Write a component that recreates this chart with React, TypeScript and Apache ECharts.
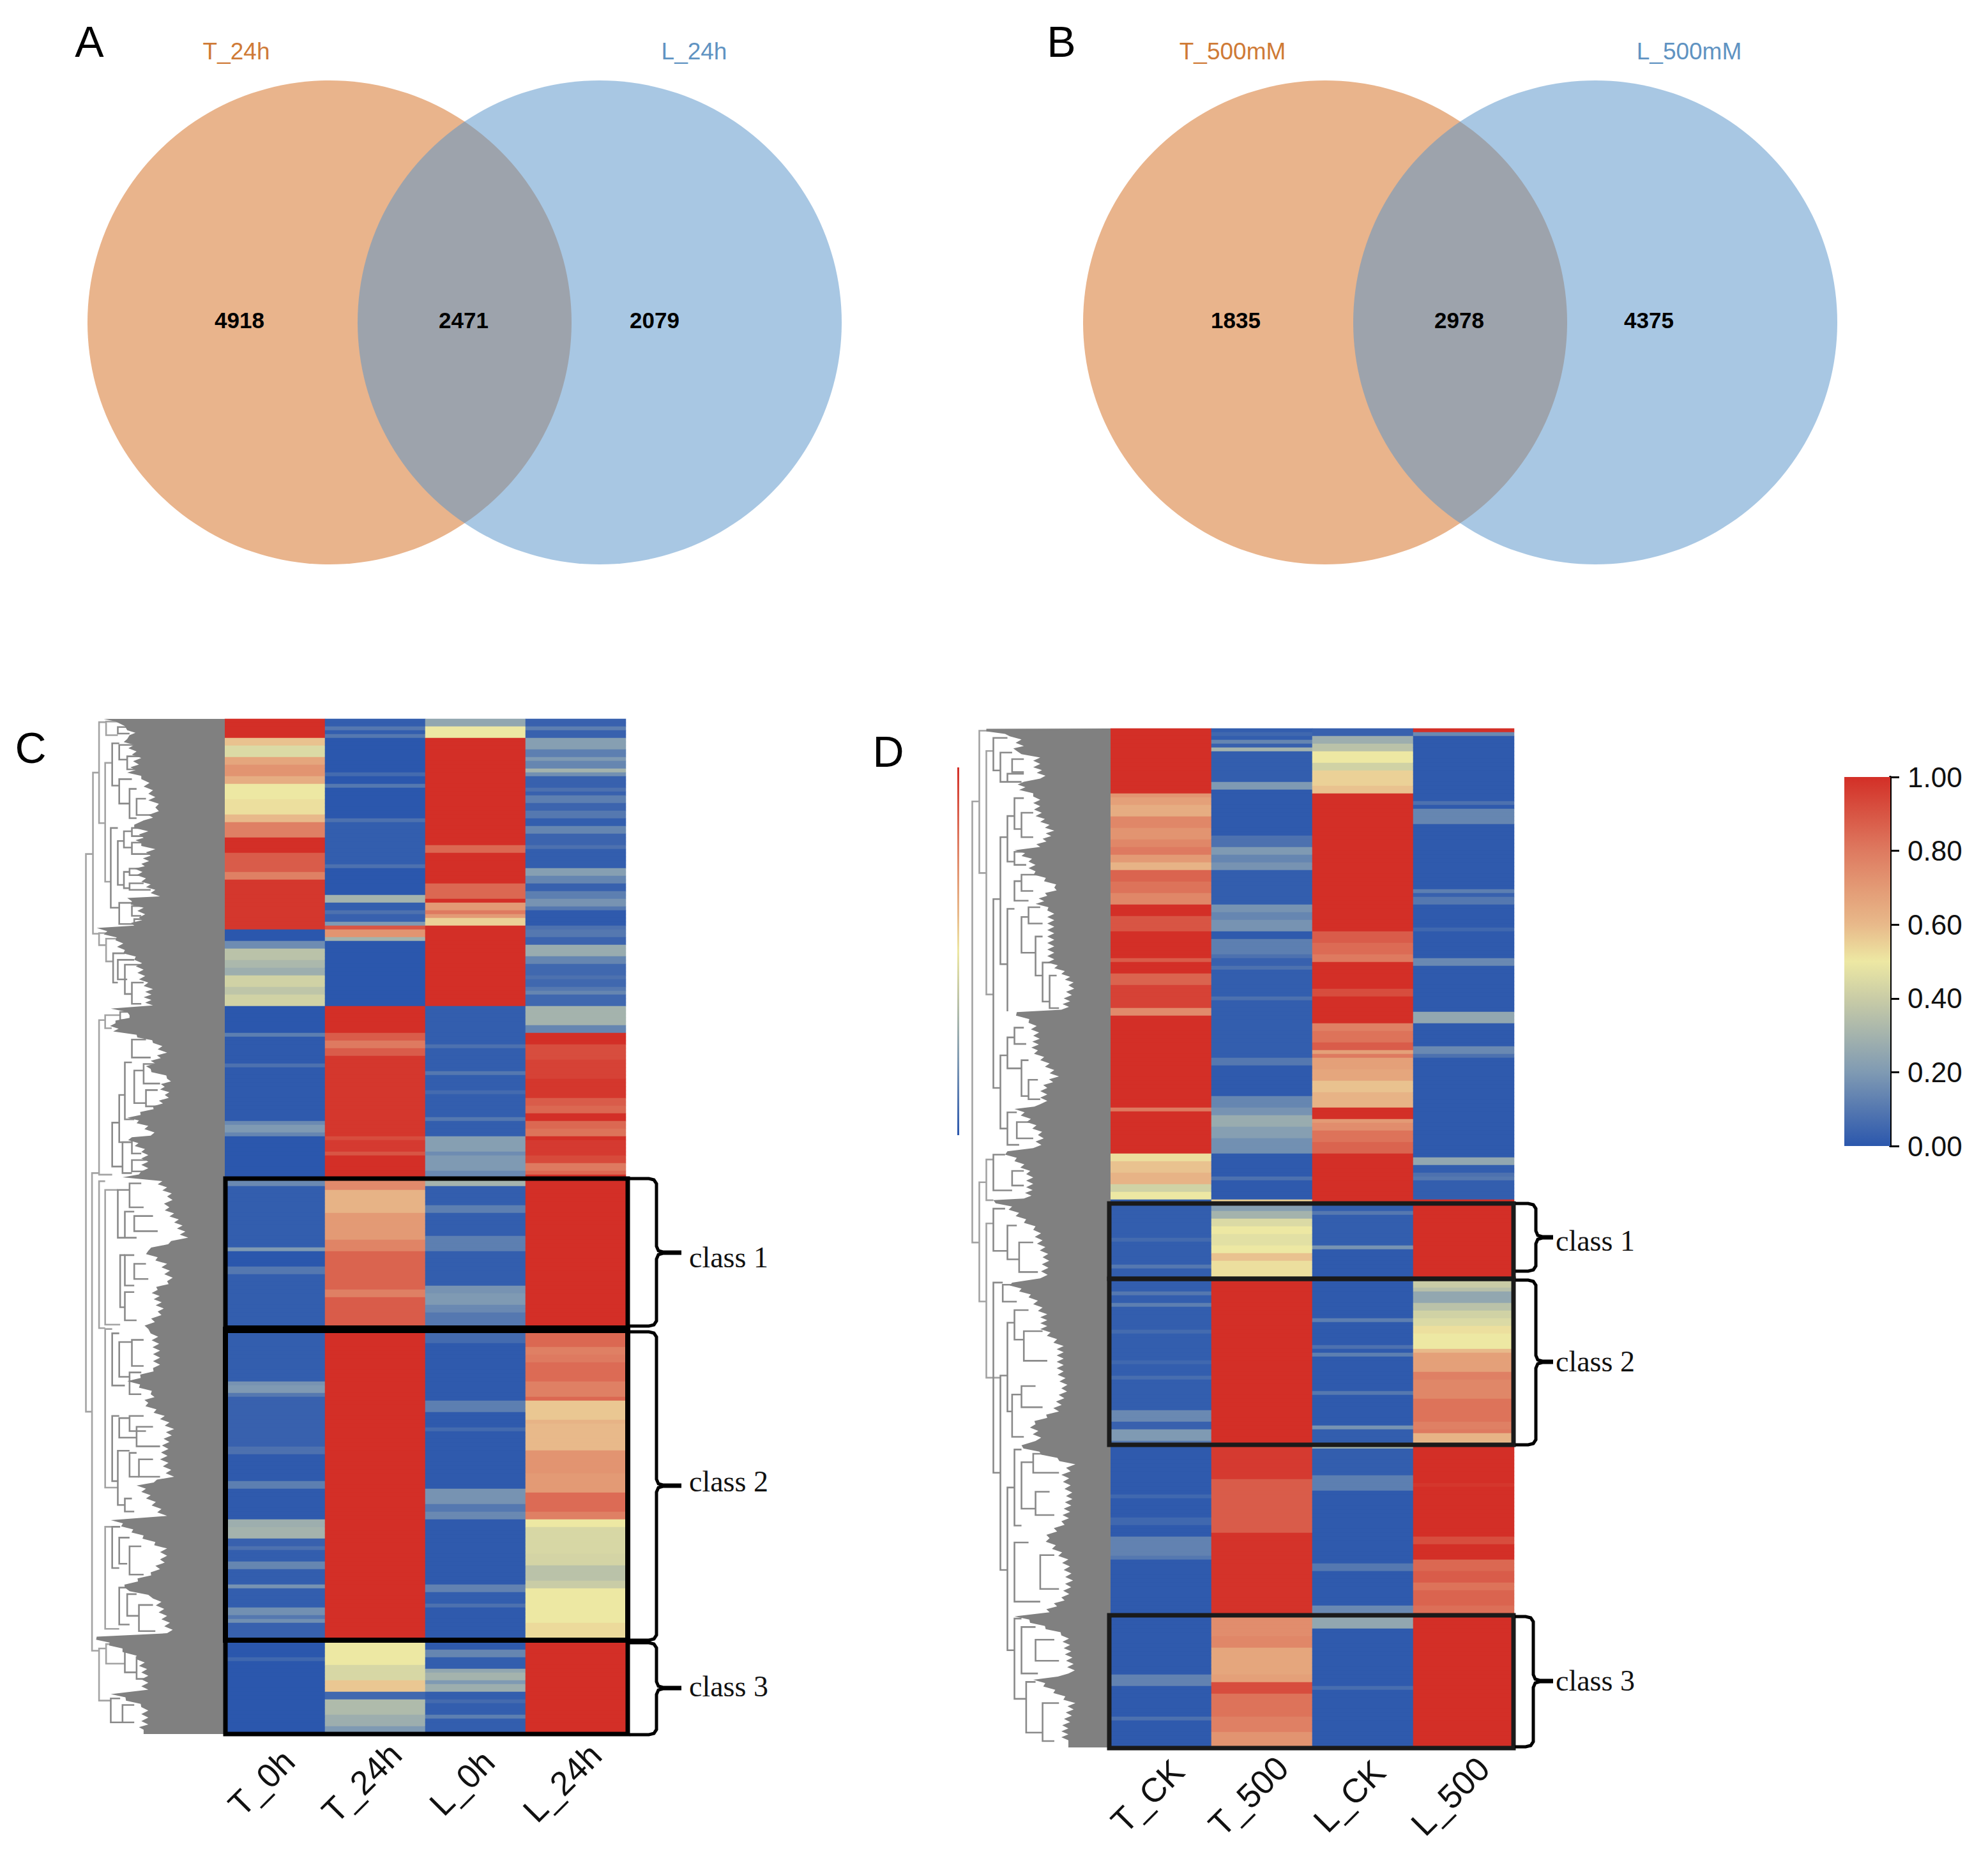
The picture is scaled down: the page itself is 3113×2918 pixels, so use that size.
import React, { useEffect, useRef } from "react";
import * as echarts from "echarts";

type Run = [number, number];

// Venn counts
const vennASets = ["T_24h", "L_24h"];
const vennBSets = ["T_500mM", "L_500mM"];
const vennACounts = [4918, 2471, 2079];
const vennBCounts = [1835, 2978, 4375];

// Heatmap columns
const colsC = ["T_0h", "T_24h", "L_0h", "L_24h"];
const colsD = ["T_CK", "T_500", "L_CK", "L_500"];
const ROWS_C = 265;
const ROWS_D = 266;

// Runs: [row where the band ends, value]
const cT0h: Run[] = [[5,1],[7,.58],[9.5,.45],[12,.66],[14.5,.72],[17,.64],[21,.5],[25,.52],[27,.6],[31,.78],[35,1],[40,.88],[41.5,.78],[54.5,.98],[57.5,0],[59.5,.16],[63,.36],[65,.32],[67,.28],[70,.42],[72,.37],[75,.42],[82,0],[83,.12],[90,.01],[91,.08],[104.5,.01],[106,.15],[107.5,.2],[109,.14],[120,0],[122,.15],[138,.02],[139,.2],[143,0],[144.5,.1],[160,.02],[172.5,.02],[174,.18],[176,.2],[177,.1],[190,.03],[191.5,.08],[199,.01],[201,.12],[209,.01],[211,.28],[213.5,.3],[216,.03],[217,.08],[220,.02],[221.5,.14],[226,.02],[227,.18],[231.5,.02],[233.5,.17],[234.5,.1],[236,.17],[240,.03],[245,0],[246,.05],[265,0]];
const cT24h: Run[] = [[1.5,.02],[2.5,.1],[4,.02],[5,.1],[14,0],[15,.06],[17,0],[18,.1],[26,0],[27,.08],[38,.02],[39,.08],[46,0],[47.5,.3],[50,.02],[51,.08],[53,.03],[54,.2],[55,.9],[56.5,.72],[57.5,.3],[75,0],[81.5,1],[84,.88],[86,.8],[88,.88],[109,.98],[110,.92],[113,.97],[114,.9],[120,1],[123,.75],[129,.62],[135.5,.7],[139,.77],[148.5,.86],[151,.78],[158.5,.88],[241,1],[247,.5],[251,.44],[254,.57],[256,.05],[260,.33],[262.5,.28],[265,.2]];
const cL0h: Run[] = [[1.5,.25],[5,.5],[32.5,1],[35,.85],[43,1],[46.5,.85],[47.5,1],[50,.7],[51,.8],[51.5,.7],[54,.55],[75,1],[85,.02],[86,.08],[91.5,.02],[92.5,.1],[97,.02],[98,.06],[103.5,.02],[104.5,.1],[109,.02],[113,.22],[114,.16],[118,.2],[120,.15],[122,.3],[127,.02],[129,.12],[135,.02],[138.5,.12],[148,.02],[150,.18],[153,.2],[155,.15],[160,.1],[163,.06],[178,.01],[181,.12],[185,.01],[186,.06],[201,.01],[205,.18],[207,.1],[209,.15],[226,.01],[227.5,.13],[231,.02],[232,.08],[243,.01],[245,.14],[248,.02],[249,.25],[250.5,.3],[252,.2],[253.5,.28],[256,.02],[257,.06],[260,.02],[261,.12],[265,.02]];
const cL24h: Run[] = [[2,.03],[2.5,.12],[5,.03],[8,.22],[10,.12],[11,.2],[12.5,.14],[13.5,.3],[14.5,.17],[18,.03],[19,.08],[20,.03],[22,.12],[24,.04],[25.5,.1],[28,.02],[30,.14],[33,.04],[34,.08],[39,.02],[41,.22],[43,.14],[45,.03],[47,.12],[49,.18],[50,.1],[54,.01],[55,.08],[56.5,.1],[57,.3],[59,.04],[62,.27],[64,.14],[67,.05],[68,.08],[70,.05],[71,.1],[72,.14],[75,.05],[80,.3],[82,.14],[85,1],[89,.92],[94,.95],[99,.98],[101,.88],[103,.85],[105,1],[107,.85],[108.5,.82],[110,1],[114,.97],[116,.93],[118,.8],[119,.85],[160,1],[164,.85],[165.5,.78],[168,.8],[173,.84],[177,.78],[178,.85],[183,.57],[184,.62],[190.5,.6],[191,.55],[197,.72],[202,.7],[207,.84],[209,.78],[211,.5],[218,.44],[221,.43],[225,.36],[227,.4],[236,.5],[241,.53],[265,1]];

const dTCK: Run[] = [[16.5,1],[18,.72],[20,.68],[23,.64],[26,.76],[29,.72],[31,.76],[33,.8],[35,.7],[36.5,.62],[40,.86],[43,.82],[46,.76],[49,1],[52.5,.9],[60,1],[61,.88],[64,1],[67,.86],[73,.95],[75,.75],[99,1],[100,.8],[110.5,1],[111,.25],[113,.52],[116,.58],[119,.62],[120.5,.42],[123,.5],[133,.02],[134,.06],[140,.02],[141,.1],[147,.02],[148,.1],[149.5,.02],[151,.12],[157,.02],[158,.06],[165,.02],[166,.05],[168.5,.02],[169.5,.07],[178,.02],[181,.15],[183,.03],[186,.2],[187,.1],[200,.01],[201,.05],[206,.01],[208,.05],[211,.01],[216,.13],[217,.1],[246.5,.01],[250,.13],[258,.01],[259,.08],[266,.01]];
const dT500: Run[] = [[1,.02],[2,.05],[3,.02],[4,.14],[5,.03],[6,.3],[13.5,.02],[16,.2],[28,.01],[31,.08],[33,.2],[35,.14],[37,.18],[45.5,.02],[48,.18],[50,.14],[52.5,.18],[55,.01],[58.5,.12],[60,.08],[62,.03],[63,.08],[70,.02],[71,.08],[86,.02],[88,.1],[96,.01],[99,.14],[101,.18],[104,.27],[107,.22],[110.5,.17],[117,.01],[118,.08],[123,.01],[124,.55],[126,.22],[128,.3],[130,.45],[132,.5],[135,.47],[137,.5],[139,.58],[144,.52],[187,1],[196,.97],[210,.88],[231.5,.99],[237,.74],[240,.76],[247,.66],[249,.68],[252,.92],[258,.82],[262,.78],[266,.72]];
const dLCK: Run[] = [[1.5,.03],[4,.28],[6,.36],[9,.5],[11,.42],[15,.55],[16.5,.58],[52.5,1],[56,.88],[59,.84],[60.5,.8],[68,1],[70,.92],[77,1],[79,.78],[82,.82],[84,.88],[85,.68],[86,.8],[89,.68],[92,.66],[95,.58],[99,.62],[102,1],[103,.7],[105,.74],[108,.82],[110.5,.86],[123.5,1],[126,.02],[127,.1],[134.5,.02],[136,.18],[154,.01],[155,.12],[161,.01],[162,.08],[163,.01],[164,.12],[173,.01],[174,.1],[182,.01],[183,.18],[187,.02],[188,.3],[195,.02],[199,.12],[218,.01],[220,.1],[229,.01],[231,.15],[235,.25],[250,.01],[251,.07],[266,.01]];
const dL500: Run[] = [[1,1],[2,.15],[19,.01],[20,.08],[20.5,.01],[25,.14],[42,.01],[43,.12],[44,.03],[46,.1],[52,.01],[53,.05],[60,.01],[62,.15],[74,.01],[77,.25],[83,.01],[85,.15],[86,.08],[112,.01],[114,.25],[116,.02],[117,.08],[118,.1],[123,.02],[144,1],[146,.4],[147,.35],[150,.25],[152,.36],[154,.42],[156,.45],[158,.52],[162,.5],[163,.6],[168,.68],[170,.78],[175,.76],[181,.82],[183,.78],[184,.8],[186,.62],[187,.6],[197,1],[198,.98],[211,1],[212.5,.92],[217,1],[220,.85],[223,.88],[225,.82],[229,.86],[231,.83],[266,1]];

// Dendrogram silhouettes: [depth, leaf position]; brackets: [stem, top, bottom, top end, bottom end]
const massCUpper = [[85,50],[125,58],[130,72],[150,85],[155,100],[135,112],[150,130],[155,150],[165,170],[160,190],[150,215],[180,235],[185,258],[195,280],[195,300],[210,322],[195,345],[185,362],[150,375],[180,395],[170,415],[165,430],[195,450],[185,470],[180,495],[165,510],[170,530],[180,550],[195,575],[205,595],[150,600],[145,610],[170,630],[175,660],[150,685],[85,692],[100,712],[125,730],[130,760],[165,790],[170,820],[175,850],[190,880],[185,905],[190,930],[115,940],[155,960],[110,985],[120,1010],[155,1020],[205,1045],[220,1075],[200,1100],[185,1125],[235,1155],[215,1180],[230,1205],[205,1240],[150,1275],[180,1300],[200,1330],[145,1335],[180,1380],[180,1440],[140,1458]];
const massCLower = [[210,0],[235,35],[225,60],[250,95],[265,130],[180,160],[220,190],[235,230],[200,250],[215,300],[180,340],[200,350],[205,390],[205,430],[150,460],[200,490],[180,510],[215,540],[235,570],[225,600],[220,640],[235,680],[170,700],[190,730],[220,770],[115,780],[170,815],[220,845],[220,870],[200,900],[130,935],[205,960],[220,1000],[235,1040],[70,1048],[125,1075],[170,1100],[180,1130],[180,1170],[115,1180],[180,1210],[180,1250],[170,1262]];
const massDUpper = [[265,42],[280,50],[330,65],[340,75],[345,95],[330,110],[380,130],[380,160],[395,195],[345,205],[350,230],[380,250],[380,280],[385,310],[410,355],[400,380],[380,405],[340,415],[370,450],[370,480],[425,530],[395,555],[385,580],[410,600],[410,640],[410,680],[410,730],[410,760],[440,795],[455,830],[445,870],[440,905],[330,912],[370,945],[380,985],[375,1030],[395,1060],[420,1110],[395,1145],[395,1195],[340,1210],[360,1240],[390,1290],[380,1330],[310,1340],[340,1370],[365,1410],[365,1450],[360,1485]];
const massDLower = [[280,0],[320,15],[350,45],[380,70],[385,95],[400,135],[395,185],[320,195],[370,230],[395,270],[395,305],[430,345],[430,405],[440,445],[420,500],[370,530],[385,570],[340,580],[455,625],[440,650],[450,700],[440,760],[400,800],[440,850],[450,900],[440,940],[400,975],[340,985],[440,1030],[450,1090],[455,1120],[380,1135],[455,1190],[440,1250],[440,1285]];

const bracketsCUpper = [[47,465,2178,62,60],[62,215,710,75,75],[75,60,370,90,88],[90,58,100,115,115],[115,75,95,135,140],[88,185,550,103,100],[103,125,255,118,118],[118,130,175,150,135],[135,165,205,160,155],[118,235,310,145,140],[140,265,355,155,155],[155,295,345,175,185],[100,385,630,115,118],[115,425,560,128,128],[128,395,445,145,145],[145,385,410,170,170],[145,430,465,175,190],[128,520,570,140,140],[140,510,530,165,165],[140,555,575,170,185],[118,615,680,145,150],[145,625,655,165,165],[150,665,680,170,170],[75,708,745,100,90],[90,725,795,115,105],[105,770,860,130,115],[115,790,850,150,135],[130,805,895,165,145],[145,860,925,170,165],[60,1445,2912,75,75],[75,975,1450,88,103],[88,960,1000,120,102],[120,950,975,150,150],[103,1290,1425,118,125],[118,1205,1350,130,145],[130,1105,1280,145,150],[145,1035,1090,175,185],[150,1130,1230,170,175],[170,1110,1170,195,205],[175,1190,1240,200,215],[125,1350,1445,145,145],[145,1345,1385,165,165],[145,1405,1440,175,180]];
const bracketsCLower = [[75,0,338,88,88],[88,20,330,115,120],[115,20,130,140,130],[140,5,60,165,170],[130,70,130,150,155],[150,80,115,190,200],[120,170,290,130,130],[130,170,240,150,150],[150,190,225,175,180],[130,255,320,150,155],[88,340,705,103,115],[103,350,470,118,130],[118,370,450,145,140],[145,365,425,170,170],[140,440,490,165,165],[103,540,690,118,115],[118,545,590,140,155],[140,540,575,170,175],[155,565,610,190,205],[115,620,745,140,130],[140,625,680,155,160],[160,640,680,190,205],[130,730,760,145,150],[88,795,1030,103,118],[103,795,890,120,118],[118,820,880,140,135],[140,840,905,165,170],[118,935,1020,135,140],[135,950,1000,155,160],[160,975,1035,190,195],[75,1075,1195,90,100],[90,1065,1110,125,130],[130,1075,1130,150,155],[155,1095,1145,170,170],[100,1190,1245,120,125],[125,1205,1245,150,150]];
const bracketsDUpper = [[235,265,1620,250,250],[250,48,485,270,265],[265,110,858,280,280],[280,70,170,310,295],[295,115,205,320,310],[320,135,175,345,345],[310,180,205,345,340],[280,565,1145,295,295],[295,375,765,310,310],[310,310,450,325,325],[325,255,350,345,340],[340,300,375,365,365],[325,420,460,350,350],[310,595,910,325,310],[325,510,570,340,355],[340,490,540,375,365],[340,620,730,355,370],[355,590,640,380,385],[370,680,800,385,385],[385,760,880,410,400],[400,800,900,415,420],[295,1045,1270,310,310],[310,990,1085,325,340],[325,960,1010,345,350],[340,1060,1170,355,355],[355,1120,1180,375,380],[310,1220,1320,330,335],[330,1250,1300,360,365],[250,1435,1801,265,265],[265,1365,1490,280,280],[280,1350,1460,305,320],[320,1400,1445,345,345]];
const bracketsDLower = [[265,55,420,280,295],[280,20,120,305,310],[310,60,140,330,335],[335,100,170,365,375],[280,195,645,300,295],[300,200,240,325,330],[295,415,875,310,310],[310,290,500,325,320],[325,260,330,355,345],[345,310,380,385,395],[320,460,560,340,345],[340,440,490,370,385],[310,680,1065,325,325],[325,590,770,340,340],[340,620,730,365,370],[365,600,645,400,420],[370,690,745,400,410],[325,810,950,355,380],[380,840,920,410,420],[325,990,1180,340,350],[340,1010,1120,370,375],[370,1040,1090,410,420],[350,1140,1260,370,385],[385,1190,1280,420,410]];

// Colour scale, evenly spaced from 0 to 1
const scaleColors = ["#2b57ad","#5578b0","#7f9ab3","#a4b3ad","#c9cca6","#ede8a3","#e8b98a","#e39a75","#de7a60","#d85544","#d32f27"];
const scaleTicks = [0, 0.2, 0.4, 0.6, 0.8, 1];

const expand = (runs: Run[], rows: number) => {
  const out: number[] = [];
  let prev = 0;
  for (const [end, v] of runs) {
    const e = Math.min(rows, Math.round(end));
    for (let i = prev; i < e; i++) out.push(v);
    prev = Math.max(prev, e);
  }
  while (out.length < rows) out.push(runs[runs.length - 1][1]);
  return out;
};

const heatData = (cols: Run[][], rows: number) => {
  const d: number[][] = [];
  cols.forEach((c, x) => expand(c, rows).forEach((v, y) => d.push([x, y, v])));
  return d;
};

// Comb edge of the dendrogram's leaves: drawn style of the silhouette.
const comb = (pts: number[][], step: number, depth: number) => {
  const out: number[][] = [];
  let odd = false;
  for (let i = 0; i < pts.length - 1; i++) {
    const [x0, y0] = pts[i];
    const [x1, y1] = pts[i + 1];
    const n = Math.max(1, Math.round((y1 - y0) / step));
    for (let k = 0; k < n; k++) {
      const t = k / n;
      out.push([x0 + (x1 - x0) * t - (odd ? depth : 0), y0 + (y1 - y0) * t]);
      odd = !odd;
    }
  }
  out.push(pts[pts.length - 1]);
  return out;
};

const SERIF = "'Liberation Serif', serif";
const SANS = "'Liberation Sans', Arial, sans-serif";

const label = (text: string, x: number, y: number, font: string, fill: string, align = "center") => ({
  type: "text", x, y, z: 120, silent: true,
  style: { text, font, fill, align, verticalAlign: "middle", textAlign: align, textVerticalAlign: "middle" },
});

const box = (x: number, y: number, w: number, h: number, lw: number, stroke: string) => ({
  type: "rect", z: 110, silent: true, shape: { x, y, width: w, height: h }, style: { fill: "none", stroke, lineWidth: lw },
});

const brace = (x0: number, xs: number, xt: number, yt: number, ym: number, yb: number) => {
  const style = { fill: "none", stroke: "#000", lineWidth: 5 };
  return [
    { type: "polyline", z: 110, silent: true, style, shape: { points: [[x0, yt], [xs - 12, yt], [xs - 4, yt + 2], [xs, yt + 8], [xs, ym - 10], [xs + 3, ym - 3], [xs + 10, ym - 1], [xt, ym - 1]] } },
    { type: "polyline", z: 110, silent: true, style, shape: { points: [[x0, yb], [xs - 12, yb], [xs - 4, yb - 2], [xs, yb - 8], [xs, ym + 10], [xs + 3, ym + 3], [xs + 10, ym + 1], [xt, ym + 1]] } },
  ];
};

const massSeries = (pts: number[][], xEnd: number, yStart: number, yEnd: number, ax: number) => ({
  type: "custom", xAxisIndex: ax, yAxisIndex: ax, silent: true, clip: false, z: 3,
  data: [[xEnd, yStart]],
  renderItem: (_: any, api: any) => ({
    type: "polygon",
    shape: { points: [[xEnd, yStart], ...pts, [pts[pts.length - 1][0], yEnd], [xEnd, yEnd]].map((p) => api.coord(p)) },
    style: { fill: "#808080", stroke: "none" },
  }),
});

const bracketSeries = (data: number[][], ax: number) => ({
  type: "custom", xAxisIndex: ax, yAxisIndex: ax, silent: true, clip: false, z: 2,
  data,
  renderItem: (_: any, api: any) => {
    const [s, t, b, te, be] = [0, 1, 2, 3, 4].map((i) => api.value(i));
    return {
      type: "polyline",
      shape: { points: [[te, t], [s, t], [s, b], [be, b]].map((p) => api.coord(p)) },
      style: { fill: "none", stroke: s < 100 || (s > 230 && s < 270) ? "#a3a3a3" : "#8a8a8a", lineWidth: 2.6 },
    };
  },
});

const hiddenValue = (min: number, max: number, inverse = false) => ({
  type: "value", min, max, inverse, show: false, splitLine: { show: false },
});

const buildOption = () => {
  const toCY = (y: number) => 1470 + 1.335 * y;
  const toDY = (y: number) => 1490 + 1.298 * y;
  const massC = comb([...massCUpper, ...massCLower.map(([x, y]) => [x, toCY(y)])], 10, 15);
  const massD = comb([...massDUpper, ...massDLower.map(([x, y]) => [x, toDY(y)])], 10, 15);
  const brC = [...bracketsCUpper, ...bracketsCLower.map(([s, t, b, te, be]) => [s, toCY(t), toCY(b), te, be])];
  const brD = [...bracketsDUpper, ...bracketsDLower.map(([s, t, b, te, be]) => [s, toDY(t), toDY(b), te, be])];

  const heatAxis = (cols: string[], grid: number) => ({
    type: "category", gridIndex: grid, data: cols, position: "bottom",
    axisLine: { show: false }, axisTick: { show: false }, splitLine: { show: false },
    axisLabel: { rotate: 45, align: "center", verticalAlign: "middle", margin: 55, padding: [0, 60, 0, 0], interval: 0, hideOverlap: false, fontFamily: SANS, fontSize: 53, color: "#111" },
  });
  const rowAxis = (rows: number, grid: number) => ({
    type: "category", gridIndex: grid, inverse: true, show: false,
    data: Array.from({ length: rows }, (_, i) => String(i)),
  });

  const venn = (name: string, counts: number[], sets: string[], cx: number[], tx: number[]) => [
    { name: sets[0], type: "scatter", xAxisIndex: 0, yAxisIndex: 0, silent: true, z: 2, symbolSize: 758, data: [[cx[0], 505]], itemStyle: { color: "#e9b48c", opacity: 1 } },
    { name: sets[1], type: "scatter", xAxisIndex: 0, yAxisIndex: 0, silent: true, z: 3, symbolSize: 758, data: [[cx[1], 505]], itemStyle: { color: "#5893c9", opacity: 0.52 } },
    {
      name, type: "scatter", xAxisIndex: 0, yAxisIndex: 0, silent: true, z: 4, symbolSize: 1, itemStyle: { color: "rgba(0,0,0,0)" },
      data: counts.map((c, i) => ({ value: [tx[i], 501], count: c })),
      label: { show: true, position: "inside", formatter: (p: any) => String(p.data.count), fontFamily: SANS, fontWeight: "bold", fontSize: 35, color: "#000", opacity: 1, textBorderWidth: 0 },
    },
  ];

  const series: any[] = [
    ...venn("A", vennACounts, vennASets, [516, 939], [375, 726, 1025]),
    ...venn("B", vennBCounts, vennBSets, [2075, 2498], [1935, 2285, 2582]),
    { name: "C", type: "heatmap", xAxisIndex: 1, yAxisIndex: 1, silent: true, data: heatData([cT0h, cT24h, cL0h, cL24h], ROWS_C), progressive: 0 },
    { name: "D", type: "heatmap", xAxisIndex: 2, yAxisIndex: 2, silent: true, data: heatData([dTCK, dT500, dLCK, dL500], ROWS_D), progressive: 0 },
    bracketSeries(brC, 3),
    massSeries(massC, 343, 50, 3168, 3),
    bracketSeries(brD, 4),
    massSeries(massD, 530, 41, 3171, 4),
    {
      type: "bar", xAxisIndex: 5, yAxisIndex: 5, silent: true, barWidth: "100%", data: [1],
      itemStyle: {
        color: new echarts.graphic.LinearGradient(0, 1, 0, 0, scaleColors.map((color, i) => ({ offset: i / (scaleColors.length - 1), color }))),
      },
    },
  ];

  const graphic: any[] = [
    label("A", 140, 65, `68px ${SANS}`, "#000"),
    label("B", 1662, 65, `68px ${SANS}`, "#000"),
    label("C", 48, 1171, `68px ${SANS}`, "#000"),
    label("D", 1391, 1177, `68px ${SANS}`, "#000"),
    label(vennASets[0], 370, 80, `37px ${SANS}`, "#cf7a36"),
    label(vennASets[1], 1087, 80, `37px ${SANS}`, "#5f93c2"),
    label(vennBSets[0], 1930, 80, `37px ${SANS}`, "#cf7a36"),
    label(vennBSets[1], 2645, 80, `37px ${SANS}`, "#5f93c2"),
    box(353, 1846, 630, 236, 7, "#000"),
    box(353, 2082, 630, 487, 8, "#000"),
    box(353, 2569, 630, 147, 7, "#000"),
    { type: "rect", z: 110, silent: true, shape: { x: 350, y: 2076, width: 636, height: 12 }, style: { fill: "#000" } },
    box(1737, 1885, 633, 118, 7, "#1a1a1a"),
    box(1737, 2003, 633, 260, 7, "#1a1a1a"),
    box(1737, 2530, 633, 208, 7, "#1a1a1a"),
    ...brace(986, 1028, 1067, 1846, 1962, 2077),
    ...brace(986, 1028, 1067, 2086, 2327, 2569),
    ...brace(986, 1028, 1067, 2573, 2644, 2717),
    ...brace(2373, 2405, 2432, 1885, 1938, 1991),
    ...brace(2373, 2405, 2432, 2005, 2133, 2263),
    ...brace(2372, 2401, 2432, 2532, 2633, 2736),
    label("class 1", 1079, 1969, `46px ${SERIF}`, "#111", "left"),
    label("class 2", 1079, 2320, `46px ${SERIF}`, "#111", "left"),
    label("class 3", 1079, 2641, `46px ${SERIF}`, "#111", "left"),
    label("class 1", 2436, 1943, `46px ${SERIF}`, "#111", "left"),
    label("class 2", 2436, 2132, `46px ${SERIF}`, "#111", "left"),
    label("class 3", 2436, 2632, `46px ${SERIF}`, "#111", "left"),
    {
      type: "rect", z: 100, silent: true, shape: { x: 1499, y: 1202, width: 3, height: 576 },
      style: { fill: new echarts.graphic.LinearGradient(0, 1, 0, 0, scaleColors.map((color, i) => ({ offset: i / (scaleColors.length - 1), color }))) },
    },
  ];

  return {
    animation: false,
    backgroundColor: "#fff",
    tooltip: { show: false },
    grid: [
      { left: 0, top: 0, width: 3113, height: 2918 },
      { left: 352, top: 1126, width: 628, height: 1590 },
      { left: 1739, top: 1141, width: 632, height: 1596 },
      { left: 100, top: 1126, width: 252, height: 1590 },
      { left: 1350, top: 1141, width: 389, height: 1596 },
      { left: 2888, top: 1217, width: 72, height: 578 },
    ],
    xAxis: [
      { ...hiddenValue(0, 3113), gridIndex: 0 },
      heatAxis(colsC, 1),
      heatAxis(colsD, 2),
      { ...hiddenValue(0, 343), gridIndex: 3 },
      { ...hiddenValue(0, 530), gridIndex: 4 },
      { type: "category", gridIndex: 5, data: [""], show: false },
    ],
    yAxis: [
      { ...hiddenValue(0, 2918, true), gridIndex: 0 },
      rowAxis(ROWS_C, 1),
      rowAxis(ROWS_D, 2),
      { ...hiddenValue(50, 3168, true), gridIndex: 3 },
      { ...hiddenValue(41, 3171, true), gridIndex: 4 },
      {
        type: "value", gridIndex: 5, min: 0, max: 1, interval: scaleTicks[1], position: "right",
        splitLine: { show: false },
        axisLine: { show: true, lineStyle: { color: "#000", width: 4 } },
        axisTick: { show: true, length: 14, lineStyle: { color: "#000", width: 3 } },
        axisLabel: { margin: 27, formatter: (v: number) => v.toFixed(2), fontFamily: SANS, fontSize: 44, color: "#111" },
      },
    ],
    visualMap: {
      show: false, min: 0, max: 1, dimension: 2, seriesIndex: [6, 7],
      inRange: { color: scaleColors },
    },
    series,
    graphic,
  };
};

export default function App() {
  const ref = useRef<HTMLDivElement>(null);
  useEffect(() => {
    document.body.style.margin = "0";
    const chart = echarts.init(ref.current!, undefined, { renderer: "svg" });
    chart.setOption(buildOption() as any);
    return () => chart.dispose();
  }, []);
  return <div ref={ref} style={{ position: "absolute", left: 0, top: 0, width: 3113, height: 2918 }} />;
}
